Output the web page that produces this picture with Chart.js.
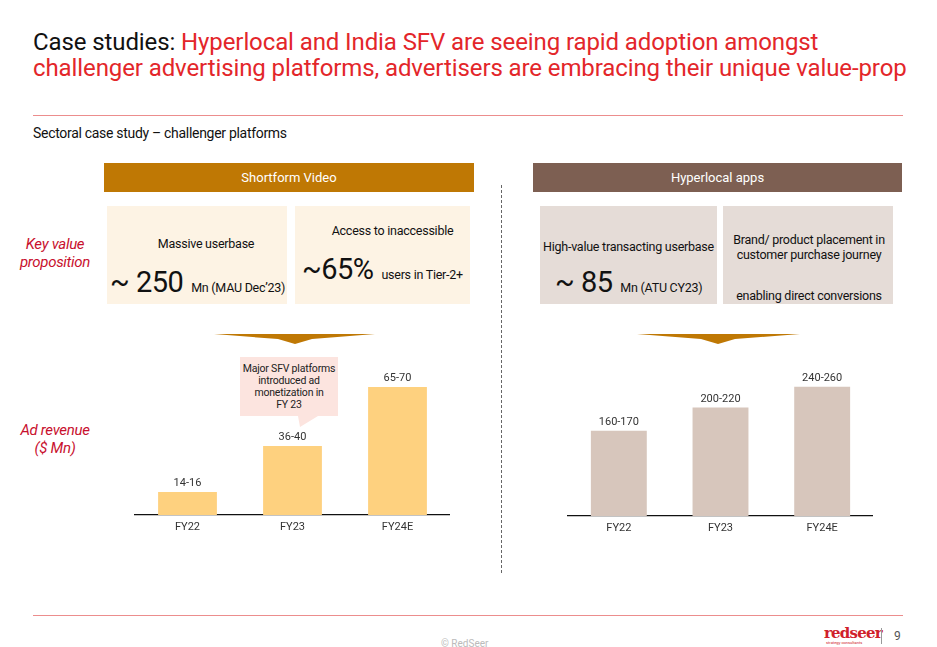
<!DOCTYPE html>
<html>
<head>
<meta charset="utf-8">
<script src="https://cdn.jsdelivr.net/npm/chart.js@4.4.1/dist/chart.umd.min.js"></script>
<style>
  html, body { margin:0; padding:0; background:#fff; }
  body { width:937px; height:647px; position:relative; overflow:hidden; font-family: Roboto, "Noto Sans", sans-serif; color:#111; }
  .abs { position:absolute; }
  .title { left:33px; top:29px; font-size:24px; line-height:26px; letter-spacing:-0.1px; color:#e3262a; white-space:nowrap; }
  .title .blk { color:#111; }
  .hr { height:1px; background:#ec8d8d; }
  .hdr { color:#fff; font-size:13px; text-align:center; line-height:29px; height:29px; }
  .t12 { font-size:12.5px; color:#111; white-space:nowrap; letter-spacing:-0.25px; }
  .big { font-size:29px; letter-spacing:-0.5px; margin-right:5px; }
  .kv { color:#c8102e; font-style:italic; font-size:15px; text-align:center; line-height:18px; width:110px; letter-spacing:-0.3px; }
  canvas { position:absolute; }
</style>
</head>
<body>
<div class="abs title"><span class="blk">Case studies: </span>Hyperlocal and India SFV are seeing rapid adoption amongst<br>challenger advertising platforms, advertisers are embracing their unique value-prop</div>
<div class="abs hr" style="left:33px; top:115px; width:870px;"></div>
<div class="abs" style="left:33px; top:125px; font-size:14px; letter-spacing:-0.3px;">Sectoral case study – challenger platforms</div>

<div class="abs hdr" style="left:104px; top:163px; width:370px; background:#bf7804;">Shortform Video</div>
<div class="abs hdr" style="left:533px; top:163px; width:369px; background:#7d5f52;">Hyperlocal apps</div>

<div class="abs" style="left:501px; top:185px; height:388px; border-left:1.3px dashed #666;"></div>

<div class="abs kv" style="left:0px; top:235px;">Key value<br>proposition</div>
<div class="abs kv" style="left:0px; top:421px;">Ad revenue<br>($ Mn)</div>

<!-- SFV boxes -->
<div class="abs" style="left:107px; top:206px; width:180px; height:98px; background:#fdf3e4;"></div>
<div class="abs" style="left:295px; top:206px; width:175px; height:98px; background:#fdf3e4;"></div>
<div class="abs t12" style="left:116px; top:236px; width:180px; text-align:center;">Massive userbase</div>
<div class="abs t12" style="left:110px; top:265px;"><span class="big">~ 250</span> Mn (MAU Dec’23)</div>
<div class="abs t12" style="left:305px; top:223px; width:175px; text-align:center;">Access to inaccessible</div>
<div class="abs t12" style="left:302px; top:252px;"><span class="big">~65%</span> users in Tier-2+</div>

<!-- Hyperlocal boxes -->
<div class="abs" style="left:540px; top:206px; width:177px; height:98px; background:#e5dcd7;"></div>
<div class="abs" style="left:723px; top:206px; width:170px; height:98px; background:#e5dcd7;"></div>
<div class="abs t12" style="left:540px; top:239px; width:177px; text-align:center;">High-value transacting userbase</div>
<div class="abs t12" style="left:555px; top:265px;"><span class="big">~ 85</span> Mn (ATU CY23)</div>
<div class="abs t12" style="left:723px; top:232px; width:172px; text-align:center; line-height:15px;">Brand/ product placement in<br>customer purchase journey</div>
<div class="abs t12" style="left:723px; top:288px; width:172px; text-align:center;">enabling direct conversions</div>

<!-- arrows & callout shape -->
<svg class="abs" style="left:0; top:0;" width="937" height="647">
  <polygon points="214,334 375,334 312,339 295,344 278,339" fill="#bf7804"/>
  <polygon points="637,334 800,334 735,339 718,344 701,339" fill="#bf7804"/>
  <polygon points="240,357 338,357 338,416 318,416 300,427 298,416 240,416" fill="#fce4df"/>
</svg>
<div class="abs" style="left:236px; top:363px; width:106px; text-align:center; font-size:10.5px; line-height:12px; color:#222; letter-spacing:-0.2px;">Major SFV platforms<br>introduced ad<br>monetization in<br>FY 23</div>

<canvas id="c1" width="340" height="185" style="left:110px; top:355px; width:340px; height:185px;"></canvas>
<canvas id="c2" width="330" height="180" style="left:543px; top:361px; width:330px; height:180px;"></canvas>

<div class="abs hr" style="left:33px; top:615px; width:870px;"></div>
<div class="abs" style="left:441px; top:638px; font-size:10px; color:#bbb;">© RedSeer</div>
<div class="abs" style="left:824px; top:624px; font-family:'DejaVu Serif', serif; font-weight:bold; font-size:15px; color:#d0202a; letter-spacing:-0.8px;">redseer</div>
<div class="abs" style="left:826px; top:640px; font-size:4px; color:#d0202a;">strategy consultants</div>
<div class="abs" style="left:881px; top:628px; width:1px; height:16px; background:#999;"></div>
<div class="abs" style="left:894px; top:629px; font-size:12px; color:#555;">9</div>

<script>
// ---- data ----
const categories = ["FY22", "FY23", "FY24E"];
const sfvLow  = [14, 36, 65];
const sfvHigh = [16, 40, 70];
const sfvMid  = [15, 38, 67.5];
const hlLow   = [160, 200, 240];
const hlHigh  = [170, 220, 260];
const hlMid   = [165, 210, 250];

const rangeLabels = {
  id: 'rangeLabels',
  afterDatasetsDraw(chart, args, opts) {
    const ctx = chart.ctx;
    const meta = chart.getDatasetMeta(0);
    ctx.save();
    ctx.font = '11px Roboto, sans-serif';
    ctx.fillStyle = '#333';
    ctx.textAlign = 'center';
    ctx.textBaseline = 'bottom';
    meta.data.forEach((bar, i) => {
      ctx.fillText(opts.low[i] + '-' + opts.high[i], bar.x, bar.y - 3);
    });
    ctx.restore();
  }
};

function makeChart(id, data, color, low, high, min, max, bp) {
  return new Chart(document.getElementById(id), {
    type: 'bar',
    data: { labels: categories, datasets: [{ data: data, backgroundColor: color, borderWidth: 0, barPercentage: bp, categoryPercentage: 1 }] },
    options: {
      responsive: false,
      animation: false,
      layout: { padding: { left: 25, right: 0, top: 0, bottom: 0 } },
      plugins: { legend: { display: false }, tooltip: { enabled: false }, rangeLabels: { low: low, high: high } },
      scales: {
        x: {
          grid: { display: false, drawTicks: false },
          border: { display: true, color: '#111', width: 1.3 },
          ticks: { color: '#333', font: { size: 11, family: 'Roboto' }, padding: 6 },
          afterFit: s => { s.height = 25; }
        },
        y: { display: false, min: min, max: max }
      }
    },
    plugins: [rangeLabels]
  });
}
makeChart('c1', sfvMid, '#fed17f', sfvLow, sfvHigh, 3.5, 83.5, 0.56);
makeChart('c2', hlMid, '#d7c6bc', hlLow, hlHigh, 0, 300, 0.55);
</script>
</body>
</html>
